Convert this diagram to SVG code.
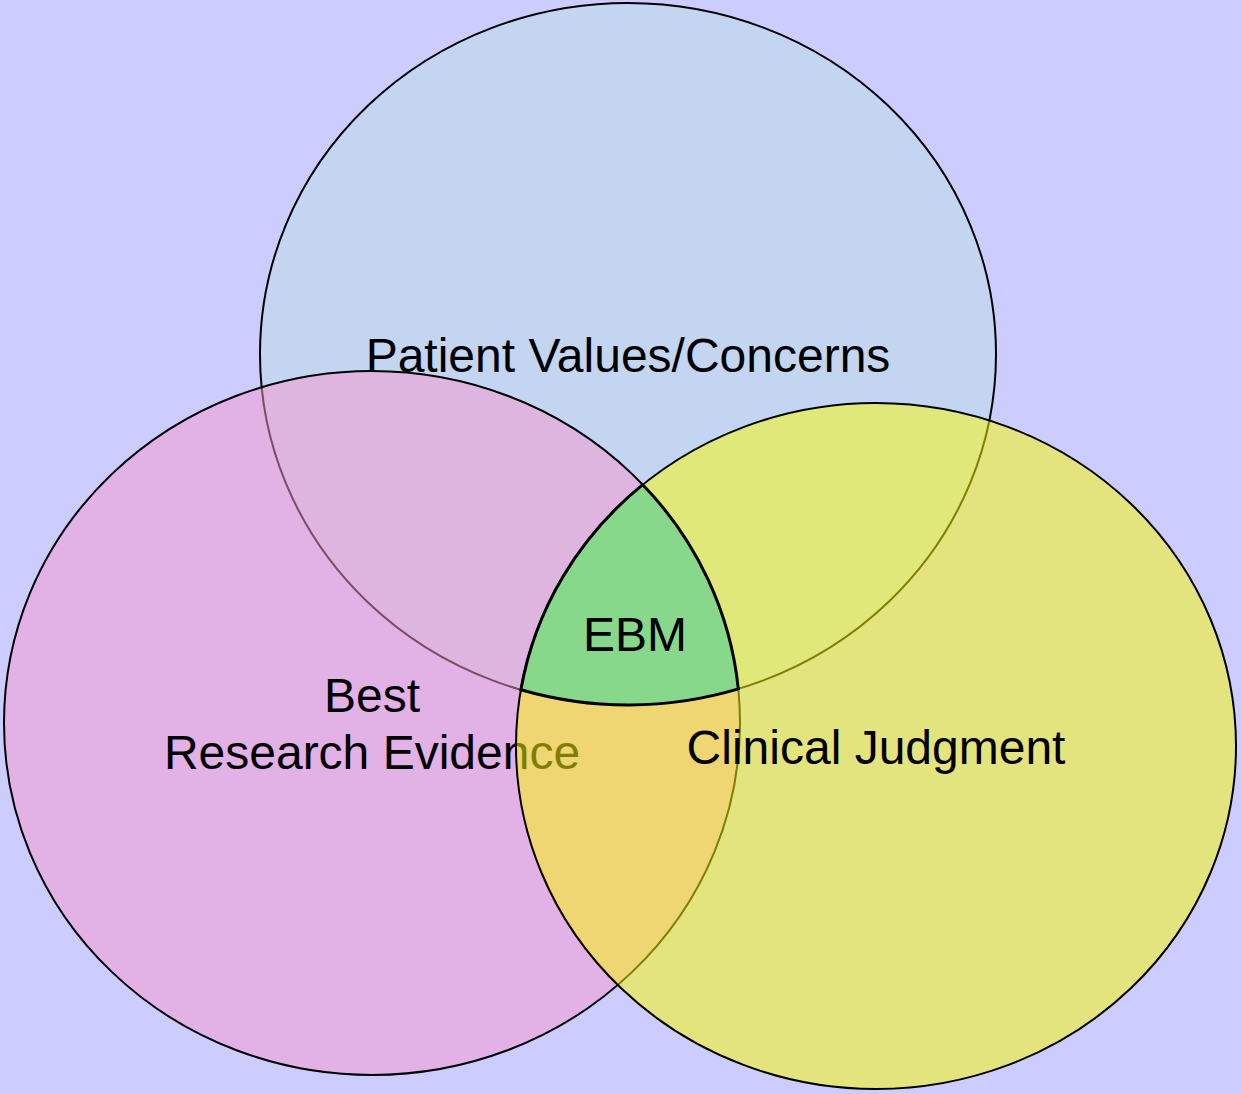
<svg xmlns="http://www.w3.org/2000/svg" width="1241" height="1094" viewBox="0 0 1241 1094">
<style>
.c{stroke:#000;stroke-width:2}
.t{font-family:"Liberation Sans",Arial,sans-serif;font-size:48px;fill:#000;text-anchor:middle}
</style>
<rect x="0" y="0" width="1241" height="1094" fill="#CCCCFF"/>
<g id="patient">
<ellipse class="c" cx="628" cy="354" rx="368" ry="351" fill="#C3D5F0"/>
<text class="t" x="628" y="372">Patient Values/Concerns</text>
</g>
<g id="research">
<ellipse class="c" cx="372" cy="723" rx="368" ry="352" fill="#F896CC" fill-opacity="0.5"/>
<text class="t" x="372" y="712">Best</text>
<text class="t" x="372" y="769">Research Evidence</text>
</g>
<g id="clinical">
<ellipse class="c" cx="876" cy="746" rx="360" ry="343" fill="#FCFC00" fill-opacity="0.5"/>
<text class="t" x="876" y="764">Clinical Judgment</text>
</g>
<g id="ebm">
<path d="M642.8,484.7 A368,352 0 0 1 738.3,688.9 A368,351 0 0 1 520.9,689.8 A360,343 0 0 1 642.8,484.7 Z" fill="#88D88C" stroke="#000" stroke-width="3" stroke-linejoin="miter"/>
<text class="t" x="635" y="651">EBM</text>
</g>
<g id="connectors"/>
</svg>
